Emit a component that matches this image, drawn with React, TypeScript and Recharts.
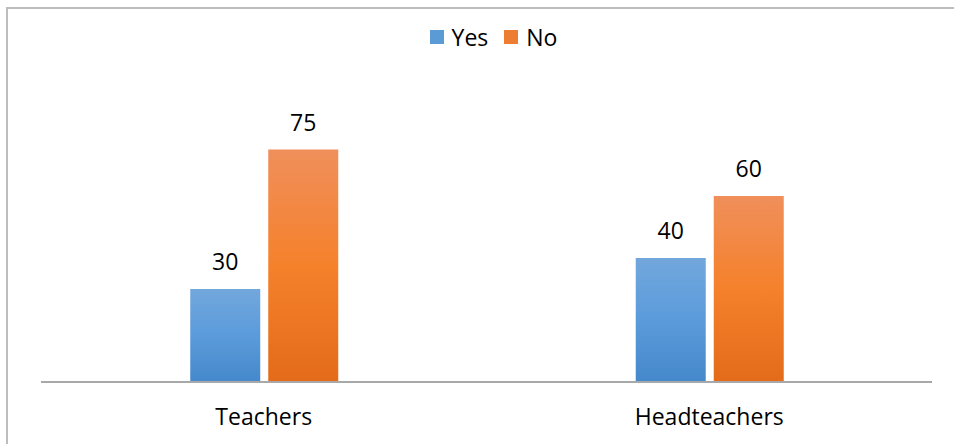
import { BarChart, Bar, XAxis, YAxis, Legend, LabelList } from "recharts";

const categories = ["Teachers", "Headteachers"];
const yesValues = [30, 40];
const noValues = [75, 60];
const seriesNames = ["Yes", "No"];
const seriesColors = ["#5b9bd5", "#ed7d31"];

const data = categories.map((name, i) => ({
  name,
  Yes: yesValues[i],
  No: noValues[i],
}));

const font = "'Open Sans', sans-serif";

function LegendContent() {
  return (
    <div style={{ display: "flex", justifyContent: "center", alignItems: "center", paddingLeft: 14, fontSize: 23, fontFamily: font, color: "#000" }}>
      {seriesNames.map((n, i) => (
        <div key={n} style={{ display: "flex", alignItems: "center", marginRight: i === 0 ? 16 : 0 }}>
          <span style={{ display: "inline-block", width: 14, height: 14, background: seriesColors[i], marginRight: 8 }} />
          <span>{n}</span>
        </div>
      ))}
    </div>
  );
}

export default function App() {
  return (
    <div style={{ position: "absolute", left: 0, top: 0, width: 954, height: 444, overflow: "hidden", background: "#fff" }}>
      {/* frame: only top and left edges are visible in the source */}
      <div
        style={{
          position: "absolute",
          left: 6,
          top: 7,
          width: 1000,
          height: 500,
          borderTop: "2px solid #bdbdbd",
          borderLeft: "2px solid #bdbdbd",
        }}
      />
      <BarChart
        width={954}
        height={444}
        data={data}
        margin={{ top: 102, right: 22, bottom: 0, left: 41 }}
        barCategoryGap="33.5%"
        barGap={8}
        style={{ position: "absolute", left: 0, top: 0, fontFamily: font }}
      >
        <defs>
          <linearGradient id="gYes" x1="0" y1="0" x2="0" y2="1">
            <stop offset="0%" stopColor="#72a7dc" />
            <stop offset="50%" stopColor="#5b9bdb" />
            <stop offset="100%" stopColor="#4588cb" />
          </linearGradient>
          <linearGradient id="gNo" x1="0" y1="0" x2="0" y2="1">
            <stop offset="0%" stopColor="#f08f5b" />
            <stop offset="50%" stopColor="#f5812b" />
            <stop offset="100%" stopColor="#e36b1a" />
          </linearGradient>
        </defs>
        <XAxis
          dataKey="name"
          height={62}
          tickLine={false}
          axisLine={{ stroke: "#a8a8a8", strokeWidth: 2 }}
          tick={{ fontSize: 23, fill: "#000", fontFamily: font }}
          dy={19}
        />
        <YAxis hide domain={[0, 80]} />
        <Legend
          verticalAlign="top"
          align="center"
          wrapperStyle={{ position: "absolute", top: 21 }}
          content={<LegendContent />}
        />
        <Bar dataKey="Yes" fill="url(#gYes)" isAnimationActive={false}>
          <LabelList dataKey="Yes" position="top" offset={19} fill="#000" fontSize={23} fontFamily={font} />
        </Bar>
        <Bar dataKey="No" fill="url(#gNo)" isAnimationActive={false}>
          <LabelList dataKey="No" position="top" offset={19} fill="#000" fontSize={23} fontFamily={font} />
        </Bar>
      </BarChart>
    </div>
  );
}
